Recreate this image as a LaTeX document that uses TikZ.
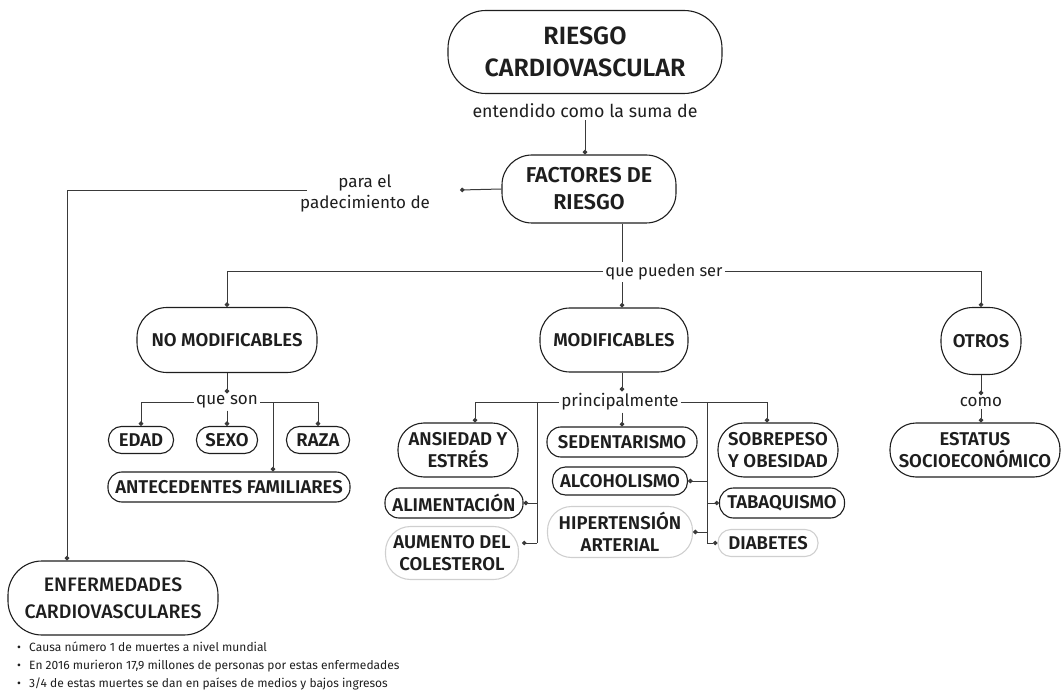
\documentclass[tikz,border=0pt]{standalone}
\usepackage{fontspec}
\setmainfont{Fira Sans}[BoldFont={Fira Sans SemiBold}]
\newfontfamily\medfont{Fira Sans Medium}
\usetikzlibrary{arrows.meta}
\definecolor{ink}{HTML}{1E1E1E}
\definecolor{wire}{HTML}{3A3A3A}
\definecolor{faint}{HTML}{CFCFCF}
\newcommand{\notebullet}{\makebox[12pt][l]{\textbullet}}
\begin{document}
\begin{tikzpicture}[x=1pt,y=-1pt,
  pill/.style={draw=ink, line width=1.1pt, align=center, inner sep=0pt, text=ink,
    font=\bfseries\fontsize{18.5}{22}\selectfont},
  faintpill/.style={pill, draw=faint},
  lbl/.style={text=ink, inner sep=2pt, align=center, font=\fontsize{17}{21}\selectfont},
  note/.style={text=ink, inner sep=0pt, anchor=north west, align=left,
    font=\fontsize{12}{18}\selectfont},
  link/.style={draw=wire, line width=1pt},
  dotlink/.style={link, -{Circle[length=4.5pt]}}
]
\useasboundingbox (0,0) rectangle (1062,692);

% main boxes
\node[pill, minimum width=274pt, minimum height=83pt, rounded corners=38pt,
  font=\bfseries\fontsize{25}{32}\selectfont] (riesgo) at (585,52) {RIESGO\\CARDIOVASCULAR};
\node[lbl, font=\fontsize{17.8}{21}\selectfont] (ent) at (585,111) {entendido como la suma de};
\node[pill, minimum width=174pt, minimum height=68pt, rounded corners=30pt,
  font=\bfseries\fontsize{21.5}{27}\selectfont] (fact) at (589,189) {FACTORES DE\\RIESGO};
\node[lbl] (para) at (365,193) {para el\\padecimiento de};
\node[pill, minimum width=210pt, minimum height=74pt, rounded corners=34pt,
  font=\medfont\fontsize{19.5}{27}\selectfont] (enf) at (113,598) {ENFERMEDADES\\CARDIOVASCULARES};

% second level
\node[lbl, font=\fontsize{16.5}{20}\selectfont] (pueden) at (664,272) {que pueden ser};
\node[pill, minimum width=180pt, minimum height=65pt, rounded corners=30pt] (nomod) at (227,340) {NO MODIFICABLES};
\node[pill, minimum width=148pt, minimum height=64pt, rounded corners=30pt] (modif) at (614,340) {MODIFICABLES};
\node[pill, minimum width=80pt, minimum height=67pt, rounded corners=32pt] (otros) at (981,341) {OTROS};

% non-modifiable factors
\node[lbl] (queson) at (227,402) {que son};
\node[pill, minimum width=65pt, minimum height=27pt, rounded corners=13pt] (edad) at (141,440) {EDAD};
\node[pill, minimum width=61pt, minimum height=27pt, rounded corners=13pt] (sexo) at (227,440) {SEXO};
\node[pill, minimum width=63pt, minimum height=27pt, rounded corners=13pt] (raza) at (318,440) {RAZA};
\node[pill, minimum width=242pt, minimum height=30pt, rounded corners=14pt] (ante) at (229,487) {ANTECEDENTES FAMILIARES};

% modifiable factors
\node[lbl] (princ) at (620,402) {principalmente};
\node[pill, minimum width=120pt, minimum height=54pt, rounded corners=26pt] (ans) at (458,450) {ANSIEDAD Y\\ESTRÉS};
\node[pill, minimum width=138pt, minimum height=30pt, rounded corners=14pt] (alim) at (454,503) {ALIMENTACIÓN};
\node[faintpill, minimum width=133pt, minimum height=53pt, rounded corners=25pt] (aum) at (452,553) {AUMENTO DEL\\COLESTEROL};
\node[pill, minimum width=150pt, minimum height=30pt, rounded corners=14pt] (sed) at (622,442) {SEDENTARISMO};
\node[pill, minimum width=135pt, minimum height=28pt, rounded corners=13pt] (alc) at (620,481) {ALCOHOLISMO};
\node[faintpill, minimum width=145pt, minimum height=51pt, rounded corners=24pt] (hip) at (620,532) {HIPERTENSIÓN\\ARTERIAL};
\node[pill, minimum width=120pt, minimum height=54pt, rounded corners=26pt] (sob) at (778,450) {SOBREPESO\\Y OBESIDAD};
\node[pill, minimum width=125pt, minimum height=30pt, rounded corners=14pt] (tab) at (782,503) {TABAQUISMO};
\node[faintpill, minimum width=100pt, minimum height=27pt, rounded corners=13pt] (diab) at (768,543) {DIABETES};

% other factors
\node[lbl] (como) at (981,402) {como};
\node[pill, minimum width=170pt, minimum height=54pt, rounded corners=26pt] (est) at (975,450) {ESTATUS\\SOCIOECONÓMICO};

% notes under the disease box
\node[note] (notes) at (17,642) {%
  \notebullet Causa número 1 de muertes a nivel mundial\\
  \notebullet En 2016 murieron 17,9 millones de personas por estas enfermedades\\
  \notebullet 3/4 de estas muertes se dan en países de medios y bajos ingresos};

% helper points
\coordinate (pend) at (460,190);
\coordinate (pline) at (307,191);
\coordinate (elbow) at (67,191);
\coordinate (trunk) at (622,0);
\coordinate (antx) at (273,0);
\coordinate (ansx) at (475,0);
\coordinate (lbus) at (537,0);
\coordinate (aumdot) at (522,543);
\coordinate (sobx) at (767,0);
\coordinate (rbus) at (707,0);

% connectors
\draw[dotlink] (ent.south) -- (ent.south |- fact.north);
\draw[dotlink] (fact.west) -- (pend);
\draw[dotlink] (pline) -- (elbow) -- (elbow |- enf.north);

\draw[link] (fact.south -| trunk) -- (pueden.north -| trunk);
\draw[dotlink] (pueden.south -| trunk) -- (modif.north -| trunk);
\draw[dotlink] (pueden.west) -- (pueden.west -| nomod) -- (nomod.north);
\draw[dotlink] (pueden.east) -- (pueden.east -| otros) -- (otros.north);

\draw[dotlink] (nomod.south) -- (queson.north);
\draw[dotlink] (queson.west) -- (queson.west -| edad) -- (edad.north);
\draw[dotlink] (queson.east) -- (queson.east -| raza) -- (raza.north);
\draw[dotlink] (queson.south) -- (sexo.north);
\draw[dotlink] (queson.east -| antx) -- (ante.north -| antx);

\draw[dotlink] (modif.south -| trunk) -- (princ.north -| trunk);
\draw[dotlink] (princ.south -| trunk) -- (sed.north -| trunk);
\draw[dotlink] (princ.west) -- (princ.west -| ansx) -- (ansx |- ans.north);
\draw[link] (princ.west -| lbus) -- (lbus |- aumdot);
\draw[dotlink] (lbus |- alim.east) -- (alim.east);
\draw[dotlink] (lbus |- aumdot) -- (aumdot);
\draw[dotlink] (princ.east) -- (princ.east -| sobx) -- (sobx |- sob.north);
\draw[link] (princ.east -| rbus) -- (rbus |- diab.west);
\draw[dotlink] (rbus |- diab.west) -- (diab.west);
\draw[dotlink] (rbus |- tab.west) -- (tab.west);
\draw[dotlink] (rbus |- alc.east) -- (alc.east);
\draw[dotlink] (rbus |- hip.east) -- (hip.east);

\draw[dotlink] (otros.south) -- (como.north);
\draw[dotlink] (como.south) -- (como.south |- est.north);
\end{tikzpicture}
\end{document}
